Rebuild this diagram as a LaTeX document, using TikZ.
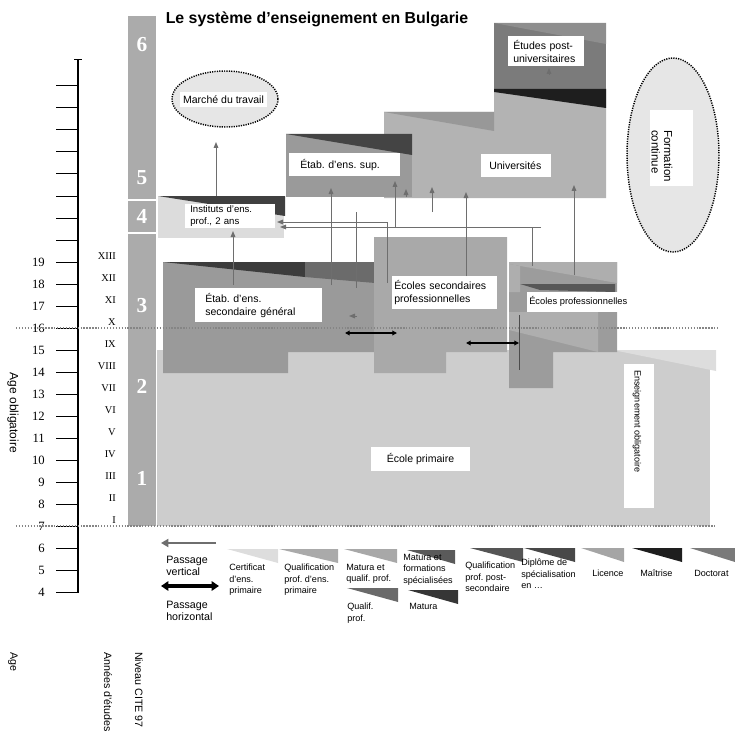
\documentclass[tikz,border=0pt]{standalone}
\usepackage{fontspec}
\setmainfont{Liberation Sans}
\newfontfamily\numfont{Liberation Serif}
\usetikzlibrary{arrows.meta}
\frenchspacing

\definecolor{colbar}{HTML}{ABABAB}
\definecolor{prim}{HTML}{CDCDCD}
\definecolor{primlight}{HTML}{DDDDDD}
\definecolor{gensec}{HTML}{9A9A9A}
\definecolor{gensecdark}{HTML}{3C3C3C}
\definecolor{gensecmid}{HTML}{6B6B6B}
\definecolor{vocsec}{HTML}{A9A9A9}
\definecolor{ecprof}{HTML}{9C9C9C}
\definecolor{ecproflight}{HTML}{AEAEAE}
\definecolor{ecprofband}{HTML}{575757}
\definecolor{inst}{HTML}{DCDCDC}
\definecolor{instdark}{HTML}{404040}
\definecolor{etabsup}{HTML}{9A9A9A}
\definecolor{etabdark}{HTML}{444444}
\definecolor{univ}{HTML}{B3B3B3}
\definecolor{univwedge}{HTML}{989898}
\definecolor{postuniv}{HTML}{7B7B7B}
\definecolor{postlight}{HTML}{8E8E8E}
\definecolor{postband}{HTML}{1E1E1E}
\definecolor{ovalfill}{HTML}{E6E6E6}
\definecolor{arrgray}{HTML}{6E6E6E}
\definecolor{dotgray}{HTML}{858585}

\tikzset{
  lbl/.style={fill=white, inner ysep=0pt, align=left, font=\fontsize{7.9}{9.6}\selectfont},
  txt/.style={inner sep=0pt, align=left, font=\fontsize{7.9}{9.6}\selectfont},
  legtxt/.style={inner sep=0pt, align=left, anchor=north west, font=\fontsize{6.8}{8.6}\selectfont},
  axtxt/.style={inner sep=0pt, rotate=-90, anchor=west, font=\fontsize{8}{9.6}\selectfont},
  agenum/.style={inner sep=0pt, anchor=east, font=\numfont\fontsize{9.5}{10}\selectfont},
  yearnum/.style={inner sep=0pt, anchor=east, font=\numfont\fontsize{7.8}{9}\selectfont},
  lvlnum/.style={inner sep=0pt, text=white, font=\numfont\bfseries\fontsize{16}{18}\selectfont},
  oval/.style={draw=black, fill=ovalfill, line width=1.1pt, dash pattern=on 0.9pt off 0.9pt},
  vert/.style={draw=arrgray, line width=0.75pt, -{Triangle[length=4.5pt,width=3.5pt]}},
  horiz/.style={draw=black, line width=0.9pt, {Triangle[length=3.5pt,width=3.5pt]}-{Triangle[length=3.5pt,width=3.5pt]}},
  agedot/.style={draw=dotgray, line width=1.4pt, dash pattern=on 1pt off 1.2pt},
}

\begin{document}
\begin{tikzpicture}[x=0.75pt, y=0.75pt, yscale=-1]
  \useasboundingbox (0,0) rectangle (735,731);

  % Title
  \node[font=\bfseries\fontsize{11.9}{13}\selectfont] (title) at (317,19) {Le système d’enseignement en Bulgarie};

  % Age axis
  \draw[line width=1pt] (78,60) -- (78,593);
  \draw[line width=0.75pt] (74,60) -- (82,60);
  \foreach \y in {86,108,...,592}
    \draw[line width=0.75pt] (56,\y) -- (78,\y);
  \foreach \a in {4,...,19}
    \node[agenum] (age\a) at (45,{526-22*(\a-7)}) {\a};
  \node[rotate=-90, inner sep=0pt, font=\fontsize{9}{10}\selectfont] (ageobl) at (13,413) {Age obligatoire};

  % Years of study
  \foreach \r [count=\k] in {I,II,III,IV,V,VI,VII,VIII,IX,X,XI,XII,XIII}
    \node[yearnum] (yr\k) at (116,{520-22*(\k-1)}) {\r};

  % ISCED column
  \fill[colbar] (128,16) rectangle (156,199);
  \fill[colbar] (128,201) rectangle (156,232);
  \fill[colbar] (128,234) rectangle (156,526);
  \foreach \d/\y in {6/45,5/178,4/216,3/306,2/386,1/478}
    \node[lvlnum] (lvl\d) at (142,\y) {\d};

  % Primary school
  \fill[prim] (157,350) rectangle (710,526);
  \fill[primlight] (613,350) -- (716,350) -- (716,371) -- cycle;

  % General secondary
  \fill[gensec] (163,262) -- (375,262) -- (375,352) -- (288,352) -- (288,373) -- (163,373) -- cycle;
  \fill[gensecdark] (163,262) -- (305,262) -- (305,277) -- cycle;
  \fill[gensecmid] (305,262) -- (375,262) -- (375,283) -- (305,277) -- cycle;

  % Vocational secondary
  \fill[vocsec] (374,237) -- (507,237) -- (507,352) -- (446,352) -- (446,373) -- (374,373) -- cycle;

  % Vocational schools
  \fill[ecprof] (509,262) -- (617,262) -- (617,352) -- (553,352) -- (553,388) -- (509,388) -- cycle;
  \fill[ecproflight] (509,262) -- (617,262) -- (617,283) -- (509,264) -- cycle;
  \fill[ecproflight] (509,264) -- (520,266) -- (520,292) -- (509,292) -- cycle;
  \fill[ecproflight] (509,312) -- (598,312) -- (598,352) -- (509,330) -- cycle;
  \fill[ecprofband] (520,284) -- (615,284) -- (615,292) -- (540,290) -- cycle;

  % Post-secondary institutes
  \fill[inst] (158,196) rectangle (284,238);
  \fill[instdark] (158,196) -- (285,196) -- (285,216) -- cycle;

  % Universities and post-graduate
  \fill[univ] (384,112) -- (494,112) -- (494,89) -- (606,89) -- (606,198) -- (384,198) -- cycle;
  \fill[univwedge] (384,112) -- (494,112) -- (494,131) -- cycle;
  \fill[postuniv] (494,23) rectangle (606,89);
  \fill[postlight] (494,23) -- (606,23) -- (606,44) -- cycle;
  \fill[postband] (494,89) -- (606,89) -- (606,108) -- (494,92) -- cycle;

  % Higher education establishments
  \fill[etabsup] (286,134) rectangle (412,197);
  \fill[etabdark] (286,134) -- (412,134) -- (412,155) -- cycle;

  % Ovals
  \draw[oval] (225,99) ellipse [x radius=53, y radius=28];
  \draw[oval] (673,155) ellipse [x radius=46, y radius=97];

  % Labels
  \node[lbl, minimum width=65.25pt, minimum height=11.25pt, inner xsep=0pt] (marche) at (223.5,99.5) {Marché du travail};
  \fill[white] (650,110) rectangle (693,186);
  \node[txt, rotate=-90, font=\fontsize{8.6}{9.4}\selectfont] (formation) at (662,156) {Formation\\continue};
  \node[lbl, anchor=north west, inner xsep=8.25pt, text width=66.75pt, minimum height=17.25pt] (etabsup) at (289,153) {Étab. d'ens. sup.};
  \node[lbl, anchor=north west, inner xsep=6pt, text width=40.5pt, minimum height=17.25pt] (univ) at (481,154) {Universités};
  \node[lbl, anchor=north west, inner xsep=3.75pt, text width=49.5pt, minimum height=22.5pt, font=\fontsize{7.9}{9.75}\selectfont] (postuniv) at (508,36) {Études post-\\universitaires};
  \node[lbl, anchor=north west, inner xsep=3.75pt, text width=60pt, minimum height=18pt, font=\fontsize{7.2}{9}\selectfont] (inst) at (185,204) {Instituts d'ens.\\prof., 2 ans};
  \node[lbl, anchor=north west, inner xsep=7.5pt, text width=80.25pt, minimum height=25.5pt] (gensec) at (195,288) {Étab. d'ens.\\secondaire général};
  \node[lbl, anchor=north west, inner xsep=1.5pt, text width=75.75pt, minimum height=24.75pt] (vocsec) at (392,276) {Écoles secondaires\\professionnelles};
  \fill[white] (527,292) rectangle (628,312);
  \node[txt, anchor=west, font=\fontsize{7}{8.4}\selectfont] (ecprof) at (529,301) {Écoles professionnelles};
  \node[lbl, minimum width=74.25pt, minimum height=18pt, inner xsep=0pt] (primaire) at (420.5,459) {École primaire};
  \fill[white] (624,364) rectangle (654,508);
  \node[txt, rotate=-90, anchor=west, font=\fontsize{6.8}{8}\selectfont] (oblig) at (637,370) {Enseignement obligatoire};

  % Vertical passages
  \draw[vert] (216,196) -- (216,142);
  \draw[vert] (233,285) -- (233,231);
  \draw[vert] (331,285) -- (331,188);
  \draw[draw=arrgray, line width=0.75pt] (356,212) -- (356,288);
  \draw[vert] (387,283) -- (387,222) -- (277,222);
  \draw[vert] (541,227) -- (280,227);
  \draw[draw=arrgray, line width=0.75pt] (532,227) -- (532,266);
  \draw[vert] (395,227) -- (395,181);
  \draw[vert] (406,197) -- (406,189);
  \draw[vert] (432,212) -- (432,187);
  \draw[vert] (466,276) -- (466,192);
  \draw[vert] (574,275) -- (574,185);
  \draw[vert] (549,75) -- (549,68);
  \draw[vert] (357,316) -- (349,316);

  % Horizontal passages
  \draw[horiz] (345,333) -- (397,333);
  \draw[horiz] (466,343) -- (519,343);
  \draw[draw=black!70, line width=0.75pt] (519,315) -- (519,370);

  % Age lines
  \draw[agedot] (16,328) -- (718,328);
  \draw[agedot] (16,526) -- (716,526);

  % Axis titles
  \node[axtxt] (agelbl) at (13,652) {Age};
  \node[axtxt] (anneeslbl) at (108,652) {Années d'études};
  \node[axtxt] (citelbl) at (139,652) {Niveau CITE 97};

  % Legend
  \draw[draw=arrgray, line width=2.2pt, -{Triangle[length=5.5pt,width=6pt]}] (216,543) -- (161,543);
  \node[legtxt, font=\fontsize{8}{8.6}\selectfont] (legvert) at (166,556) {Passage\\vertical};
  \draw[line width=2.4pt, {Triangle[length=5.5pt,width=7pt]}-{Triangle[length=5.5pt,width=7pt]}] (161,586) -- (219,586);
  \node[legtxt, font=\fontsize{8}{9}\selectfont] (leghoriz) at (166,601) {Passage\\horizontal};
  \foreach \xa/\xb/\ya/\c in {227/278/549/DDDDDD, 279/338/549/AAAAAA, 344/397/549/A8A8A8,
      347/398/588/6A6A6A, 407/455/550/5A5A5A, 408/458/590/363636, 470/523/548/555555,
      524/575/548/484848, 581/624/548/A5A5A5, 632/682/548/1E1E1E, 690/735/548/7A7A7A}
  {
    \definecolor{swc}{HTML}{\c}
    \fill[swc] (\xa,\ya) -- (\xb,\ya) -- (\xb,{\ya+14}) -- cycle;
  }
  \node[legtxt] (legcert) at (229,564) {Certificat\\d'ens.\\primaire};
  \node[legtxt] (legqprim) at (284,564) {Qualification\\prof. d'ens.\\primaire};
  \node[legtxt] (legmatq) at (346,564) {Matura et\\qualif. prof.};
  \node[legtxt] (legqual) at (347,603) {Qualif.\\prof.};
  \node[legtxt] (legmatf) at (403,554) {Matura et\\formations\\spécialisées};
  \node[legtxt] (legmat) at (409,603) {Matura};
  \node[legtxt] (legqpost) at (465,562) {Qualification\\prof. post-\\secondaire};
  \node[legtxt] (legdipl) at (521,559) {Diplôme de\\spécialisation\\en …};
  \node[legtxt] (leglic) at (592,570) {Licence};
  \node[legtxt] (legmait) at (640,570) {Maîtrise};
  \node[legtxt] (legdoct) at (694,570) {Doctorat};
\end{tikzpicture}
\end{document}
